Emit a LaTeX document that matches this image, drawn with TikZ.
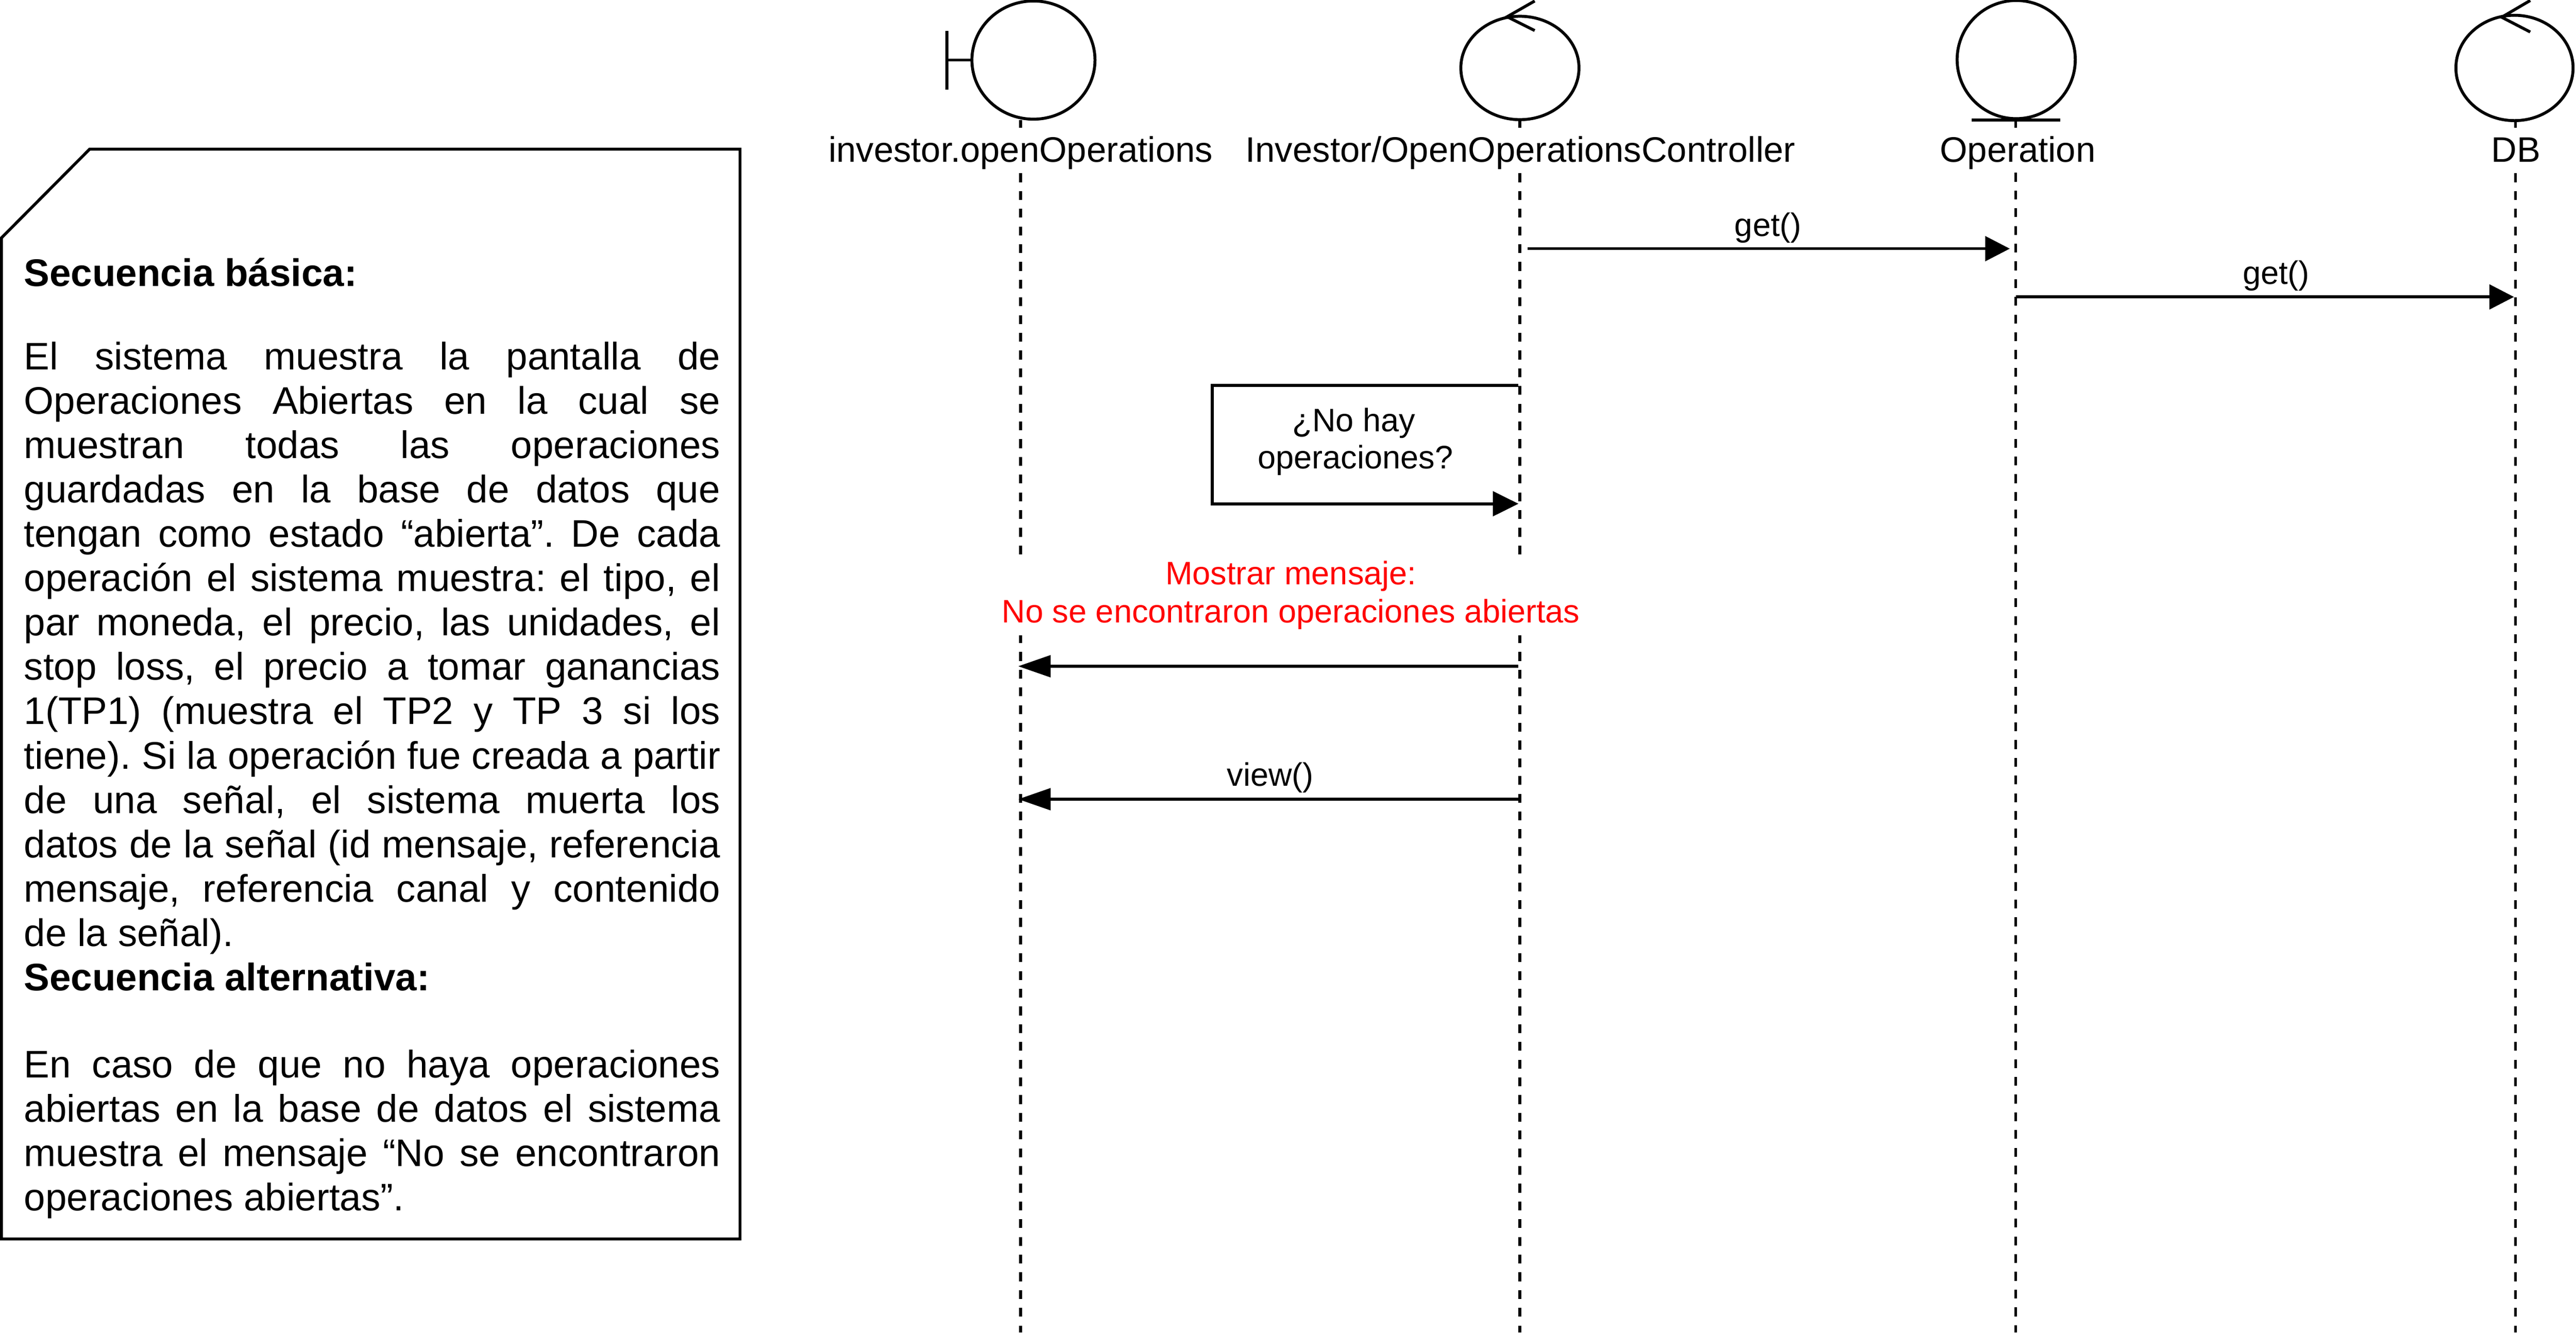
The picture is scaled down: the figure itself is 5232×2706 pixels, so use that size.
\documentclass[tikz,border=0pt]{standalone}
\usepackage{fontspec}
\setmainfont{Liberation Sans}
\usetikzlibrary{arrows.meta,shapes.geometric}
\newcommand{\jl}[1]{\hbox to 1414pt{#1}}
\frenchspacing
\tikzset{
  x=1pt,y=-1pt,
  every path/.style={line width=6pt},
  umlcircle/.style={draw=black,ellipse,inner sep=0pt,outer sep=0pt,line width=6pt},
  lifeline/.style={draw=black,line width=6pt,dash pattern=on 18pt off 18pt},
  solidline/.style={draw=black,line width=6pt},
  headlabel/.style={fill=white,inner xsep=0pt,inner ysep=0pt,anchor=base,text height=69pt,text depth=22pt,font=\fontsize{72}{83}\selectfont},
  msglabel/.style={inner sep=0pt,anchor=base,font=\fontsize{66}{76}\selectfont},
  headR/.style={-{Triangle[length=50pt,width=50pt]}},
  headLoop/.style={-{Triangle[length=52pt,width=50pt]}},
  headL/.style={-{Triangle[length=66pt,width=44pt]}},
  notebody/.style={inner sep=0pt,anchor=north west,align=left,font=\fontsize{78}{90}\selectfont},
}
\begin{document}
\begin{tikzpicture}
\useasboundingbox (0,0) rectangle (5232,2706);
\fill[white] (0,0) rectangle (5232,2706);

% lifeline ends
\coordinate (t1) at (2073,244);
\coordinate (b1) at (2073,2706);
\coordinate (t2) at (3087,244);
\coordinate (b2) at (3087,2706);
\coordinate (t3) at (4094,243);
\coordinate (b3) at (4094,2706);
\coordinate (t4) at (5109,244);
\coordinate (b4) at (5109,2706);

\draw[lifeline] (t1) -- (b1);
\draw[lifeline] (t2) -- (b2);
\draw[lifeline] (t3) -- (b3);
\draw[lifeline] (t4) -- (b4);

% boundary
\node[umlcircle,minimum width=250pt,minimum height=240pt] (bnd) at (2099,122) {};
\coordinate (bndbar) at (1923,122);
\coordinate (bndtop) at (1923,63);
\coordinate (bndbot) at (1923,182);
\draw[solidline] (bndtop) -- (bndbot);
\draw[solidline] (bndbar) -- (bnd.west);

% control 1
\node[umlcircle,minimum width=240pt,minimum height=210pt] (ctrl) at (3087,138) {};
\coordinate (ctrlA) at (3061,34);
\coordinate (ctrlB) at (3117,2);
\coordinate (ctrlC) at (3117,62);
\draw[solidline] (ctrlB) -- (ctrlA) -- (ctrlC);

% entity
\node[umlcircle,minimum width=240pt,minimum height=240pt] (ent) at (4095,121) {};
\coordinate (entL) at (4004,244);
\coordinate (entR) at (4185,244);
\draw[solidline] (entL) -- (entR);

% control 2
\node[umlcircle,minimum width=238pt,minimum height=214pt] (db) at (5107,138) {};
\coordinate (dbA) at (5081,35);
\coordinate (dbB) at (5139,1);
\coordinate (dbC) at (5139,65);
\draw[solidline] (dbB) -- (dbA) -- (dbC);

% head labels
\node[headlabel] (l1) at (2073,329) {investor.openOperations};
\node[headlabel] (l2) at (3088,329) {Investor/OpenOperationsController};
\node[headlabel] (l3) at (4098,329) {Operation};
\node[headlabel] (l4) at (5110,329) {DB};

% messages
\coordinate (m1s) at (3103,505);
\coordinate (m1e) at (4082,505);
\draw[solidline,headR] (m1s) -- (m1e);
\node[msglabel] (m1l) at (3591,480) {get()};

\coordinate (m2s) at (4094,603);
\coordinate (m2e) at (5106,603);
\draw[solidline,headR] (m2s) -- (m2e);
\node[msglabel] (m2l) at (4623,577) {get()};

% self loop
\coordinate (lps) at (3084,783);
\coordinate (lpa) at (2462,783);
\coordinate (lpb) at (2462,1023);
\coordinate (lpe) at (3084,1023);
\draw[solidline,headLoop] (lps) -- (lpa) -- (lpb) -- (lpe);
\node[msglabel,align=center,anchor=center] (lpl) at (2753,897) {\hspace{-6pt}¿No hay\\operaciones?};

% red message
\node[inner xsep=0pt,inner ysep=0pt,fill=white,text=red,align=center,anchor=north,minimum height=163pt,font=\fontsize{66}{77}\selectfont] (redl) at (2622,1124) {Mostrar mensaje:\\No se encontraron operaciones abiertas};
\coordinate (m3s) at (3084,1353);
\coordinate (m3e) at (2068,1353);
\draw[solidline,headL] (m3s) -- (m3e);

% view
\coordinate (m4s) at (3087,1623);
\coordinate (m4e) at (2068,1623);
\draw[solidline,headL] (m4s) -- (m4e);
\node[msglabel] (m4l) at (2580,1596) {view()};

% note
\coordinate (n1) at (182,303);
\coordinate (n2) at (1503,303);
\coordinate (n3) at (1503,2516);
\coordinate (n4) at (3,2516);
\coordinate (n5) at (3,483);
\draw[solidline,line join=miter] (n1) -- (n2) -- (n3) -- (n4) -- (n5) -- cycle;

\node[notebody] (note) at (46,521) {%
\textbf{Secuencia básica:}\\[80pt]
\jl{El sistema muestra la pantalla de}\\
\jl{Operaciones Abiertas en la cual se}\\
\jl{muestran todas las operaciones}\\
\jl{guardadas en la base de datos que}\\
\jl{tengan como estado “abierta”. De cada}\\
\jl{operación el sistema muestra: el tipo, el}\\
\jl{par moneda, el precio, las unidades, el}\\
\jl{stop loss, el precio a tomar ganancias}\\
\jl{1(TP1) (muestra el TP2 y TP 3 si los}\\
\jl{tiene). Si la operación fue creada a partir}\\
\jl{de una señal, el sistema muerta los}\\
\jl{datos de la señal (id mensaje, referencia}\\
\jl{mensaje, referencia canal y contenido}\\
de la señal).\\
\textbf{Secuencia alternativa:}\\[87pt]
\jl{En caso de que no haya operaciones}\\
\jl{abiertas en la base de datos el sistema}\\
\jl{muestra el mensaje “No se encontraron}\\
operaciones abiertas”.};
\end{tikzpicture}
\end{document}
